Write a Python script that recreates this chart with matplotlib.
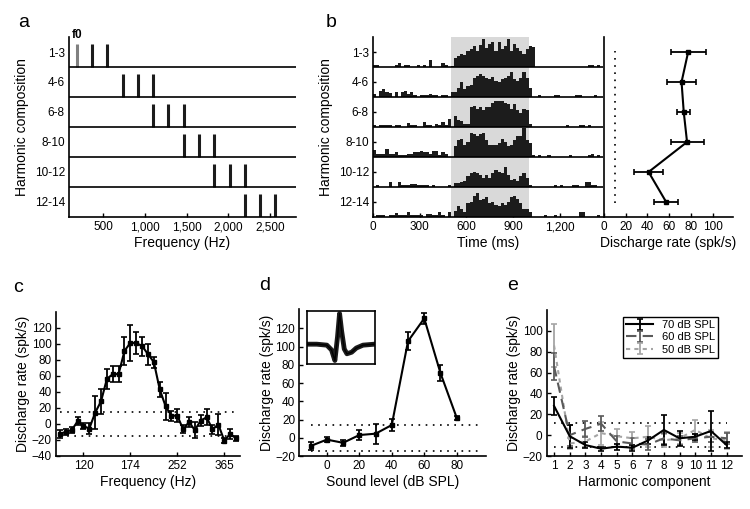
import matplotlib
matplotlib.use('Agg')
import matplotlib.pyplot as plt
import numpy as np
from matplotlib.ticker import NullLocator

plt.rcParams['font.family'] = ['Liberation Sans', 'DejaVu Sans']
plt.rcParams['axes.linewidth'] = 1.2

# ---- panel a: harmonic complexes ----
row_labels = ['1-3', '4-6', '6-8', '8-10', '10-12', '12-14']
f0_hz = 183
harmonic_numbers = [[1, 2, 3], [4, 5, 6], [6, 7, 8], [8, 9, 10], [10, 11, 12], [12, 13, 14]]
freq_ticks_a = [500, 1000, 1500, 2000, 2500]
freq_ticklabels_a = ['500', '1,000', '1,500', '2,000', '2,500']

# ---- panel b: PSTH per harmonic composition (20 ms bins) ----
psth_bin_ms = 20
psth_rows = [
    [0.7, 0.7, 0, 0, 0, 0, 0, 0.7, 1.5, 0, 0.8, 0.8, 0, 0, 0.8, 0, 0.8, 0, 2.2, 0,
     0, 0, 1.2, 0.7, 0, 0.5, 3.0, 3.8, 4.3, 4.0, 5.5, 6.0, 7.0, 5.5, 7.5, 9.5, 6.5, 7.8, 8.5, 5.5,
     8.5, 6.0, 7.0, 9.5, 5.5, 7.8, 6.5, 5.5, 4.5, 6.0, 7.0, 6.8, 0, 0, 0, 0, 0, 0, 0, 0,
     0, 0, 0, 0, 0, 0, 0, 0, 0, 0.7, 0.7, 0, 0.7, 0],
    [1.0, 0, 2.0, 2.5, 1.5, 1.3, 0, 1.5, 0, 1.5, 2.0, 1.0, 1.5, 0.8, 0, 0.5, 0.7, 0.5, 1.0, 0.8,
     0.5, 0, 0.5, 0.5, 0, 1.5, 1.5, 3.0, 5.0, 2.8, 3.5, 4.0, 6.5, 7.0, 7.8, 7.0, 6.5, 6.0, 6.8, 5.5,
     5.0, 6.0, 6.5, 7.0, 8.5, 6.0, 5.5, 6.5, 8.5, 6.5, 3.0, 0, 0, 0.5, 0, 0, 0, 0, 0.5, 0.5,
     0, 0, 0, 0, 0, 0.5, 0.5, 0, 0, 0, 0, 0.5, 0, 0],
    [0.5, 0, 0.5, 0.5, 0.5, 0.5, 0, 0.5, 0.5, 0, 0, 1.2, 0.5, 0.5, 0, 0, 1.5, 0.5, 0.5, 0,
     1.0, 0.5, 1.5, 0.5, 2.5, 0, 3.8, 2.2, 2.0, 1.0, 1.0, 6.5, 7.0, 6.0, 6.5, 5.5, 6.5, 6.5, 8.0, 8.5,
     8.5, 8.8, 8.0, 7.5, 6.0, 7.5, 5.5, 4.5, 6.0, 5.5, 1.0, 0, 0, 0, 0, 0, 0, 0, 0, 0,
     0, 0, 0.5, 0, 0, 0, 0.5, 0.5, 0, 0.5, 0, 0, 0, 0],
    [2.2, 1.0, 1.0, 1.0, 2.5, 1.0, 1.0, 1.5, 0.5, 0.8, 0.5, 1.0, 1.0, 1.5, 1.5, 2.0, 1.5, 1.5, 1.0, 2.0,
     2.0, 0.5, 1.5, 1.0, 0, 0, 3.5, 5.5, 6.0, 4.0, 5.0, 8.0, 7.5, 7.0, 7.5, 8.0, 5.5, 4.0, 4.0, 4.0,
     4.5, 6.0, 5.0, 3.5, 4.0, 5.5, 7.0, 7.0, 9.5, 5.5, 4.5, 0.5, 0, 0.5, 0, 0, 0.5, 0, 0, 0,
     0, 0, 0, 0.5, 0, 0, 0, 0, 0, 0.5, 1.0, 0, 0.5, 0],
    [0, 0.5, 0, 0, 0, 1.5, 0, 0, 1.5, 0.8, 0.8, 0.5, 1.0, 1.0, 0.5, 0.5, 0.8, 0.5, 0, 0.5,
     0, 0, 0, 0, 0.8, 0, 1.2, 1.3, 1.8, 2.0, 3.5, 4.5, 5.0, 4.5, 4.0, 3.0, 4.0, 3.0, 4.5, 5.5,
     5.0, 4.5, 6.5, 4.0, 2.2, 2.5, 2.0, 3.5, 4.5, 3.0, 0.5, 0, 0, 0, 0, 0, 0, 0, 0.5, 0,
     0.8, 0, 0, 0, 0.8, 0.8, 0, 0, 1.5, 1.5, 0.5, 0.5, 0, 0],
    [0, 0.5, 0.5, 0.5, 0, 0.5, 0.5, 1.2, 0.5, 0.5, 0.5, 1.5, 0.5, 0.5, 0.5, 0.8, 0, 1.0, 1.0, 0.5,
     0.5, 1.5, 0.5, 0, 1.5, 0, 2.0, 3.5, 2.5, 1.5, 4.5, 5.0, 7.0, 8.0, 5.5, 6.0, 6.5, 4.5, 5.0, 4.0,
     3.5, 4.5, 4.0, 5.0, 6.5, 7.0, 6.0, 4.5, 2.5, 2.5, 1.5, 0, 0, 0, 0, 0.5, 0, 0, 0.8, 0,
     0, 0, 0, 0, 0, 0, 1.5, 1.5, 0, 0, 0, 0, 0.5, 0],
]
stim_on_ms, stim_off_ms = 500, 1000
time_ticks = [0, 300, 600, 900, 1200]
time_ticklabels = ['0', '300', '600', '900', '1,200']

# discharge rate per composition
rate_mean = [77, 71, 73, 76, 41, 57]
rate_err = [16, 13.5, 6, 15, 13, 11]
spont_rate = 10

# ---- panel c: f0 tuning ----
tune_freqs = [100.0, 104.7, 109.7, 114.9, 120.3, 126.0, 132.0, 138.2, 144.7, 151.6, 158.7,
              166.2, 174.1, 182.3, 191.0, 200.0, 209.5, 219.4, 229.7, 240.6, 252.0, 263.9,
              276.4, 289.4, 303.1, 317.5, 332.5, 348.2, 364.8, 382.0, 400.0]
tune_rate = [-13, -10, -8, 3, -3, -6, 14, 28, 56, 62, 62, 91, 101, 101, 97, 87, 77, 43, 22, 10,
             10, -7, 2, -8, 4, 8, -7, -1, -21, -13, -18]
tune_err = [5, 4, 4, 5, 4, 7, 21, 16, 12, 10, 10, 17, 23, 14, 12, 13, 7, 9, 17, 6,
            8, 5, 6, 10, 7, 10, 6, 13, 3, 6, 3]
tune_ticks = [120.3, 174.1, 252.0, 364.8]
tune_ticklabels = ['120', '174', '252', '365']
tune_spont = [15, -15]

# ---- panel d: rate-level ----
sound_levels = [-10, 0, 10, 20, 30, 40, 50, 60, 70, 80]
level_rate = [-9, -2, -5.5, 3, 4.5, 14, 106, 131, 71, 22]
level_err = [4.5, 3, 3.5, 5.5, 11, 6.5, 10, 6.5, 9, 2]
level_spont = [14, -14]
# spike waveform in inset
wave_t = [0, 0.14, 0.29, 0.36, 0.41, 0.45, 0.48, 0.51, 0.55, 0.59, 0.66, 0.73, 0.83, 1.0]
wave_v = [0, 0, -0.05, -0.3, -0.85, 0.4, 1.6, 0.7, -0.25, -0.5, -0.42, -0.2, -0.05, 0]

# ---- panel e: single harmonic components ----
components = [1, 2, 3, 4, 5, 6, 7, 8, 9, 10, 11, 12]
rate_70db = [28, -1, -9.5, -13, -11, -12, -5, 5, -3, -1.5, 4, -9.5]
err_70db = [9, 11, 3, 2, 3, 3, 3, 14, 7, 3, 19, 3]
rate_60db = [66, 0, 6, 11, -6, -8, -9, -3, -5, -3, -1.5, -3]
err_60db = [13, 10, 8, 7, 5, 5, 5, 5, 4, 4, 5, 5]
rate_50db = [86, -8, -6, 2, -1, -3, -1.5, -5, -3, 5, -3, -5]
err_50db = [21, 5, 5, 11, 7, 6, 10, 6, 5, 10, 8, 8]
comp_spont = [11.5, -11.5]

dark = '#1c1c1c'
dotted = (0, (1, 3.3))


def style(ax):
    ax.spines['top'].set_visible(False)
    ax.spines['right'].set_visible(False)
    ax.tick_params(direction='in', length=3, width=1, labelsize=8.5, pad=3)


fig = plt.figure(figsize=(7.5, 5.09), dpi=100)
n_rows = len(row_labels)
row_centers = [n_rows - 0.5 - i for i in range(n_rows)]

# panel a
ax_a = fig.add_axes([0.092, 0.5737, 0.3027, 0.3536])
style(ax_a)
for i, harmonics in enumerate(harmonic_numbers):
    base = n_rows - 1 - i
    for h in harmonics:
        ax_a.vlines(f0_hz * h, base, base + 0.77, color='#808080' if h == 1 else dark, lw=2.2)
    if base > 0:
        ax_a.axhline(base, color='k', lw=1.2)
ax_a.text(f0_hz, 6.08, 'f0', fontweight='bold', fontsize=8.5, ha='center', va='center', clip_on=False)
ax_a.set_xlim(90, 2810)
ax_a.set_ylim(0, n_rows)
ax_a.set_xticks(freq_ticks_a)
ax_a.set_xticklabels(freq_ticklabels_a)
ax_a.set_yticks(row_centers)
ax_a.set_yticklabels(row_labels)
ax_a.tick_params(axis='y', length=0)
ax_a.set_xlabel('Frequency (Hz)', fontsize=10, labelpad=2)
ax_a.set_ylabel('Harmonic composition', fontsize=10)

# panel b, PSTH
ax_b = fig.add_axes([0.4973, 0.5737, 0.3073, 0.3536])
style(ax_b)
ax_b.axvspan(stim_on_ms, stim_off_ms, color='#d9d9d9', lw=0, zorder=0)
for i, counts in enumerate(psth_rows):
    base = n_rows - 1 - i
    edges = np.arange(len(counts)) * psth_bin_ms
    ax_b.bar(edges, np.array(counts) / 10.0, width=psth_bin_ms, align='edge', bottom=base,
             color=dark, lw=0, zorder=2)
    if base > 0:
        ax_b.axhline(base, color='k', lw=1.2, zorder=3)
ax_b.set_xlim(0, len(psth_rows[0]) * psth_bin_ms)
ax_b.set_ylim(0, n_rows)
ax_b.set_xticks(time_ticks)
ax_b.set_xticklabels(time_ticklabels)
ax_b.set_yticks(row_centers)
ax_b.set_yticklabels(row_labels)
ax_b.tick_params(axis='y', length=2)
ax_b.set_xlabel('Time (ms)', fontsize=10, labelpad=2)
ax_b.set_ylabel('Harmonic composition', fontsize=10)

# panel b, rates
ax_r = fig.add_axes([0.8047, 0.5737, 0.1729, 0.3536])
style(ax_r)
ax_r.errorbar(rate_mean, row_centers, xerr=rate_err, color='k', lw=1.5, elinewidth=1.3,
              capsize=2.5, capthick=1.2, marker='s', ms=2.5)
ax_r.vlines(spont_rate, row_centers[-1] - 0.05, row_centers[0] + 0.05, color='k', lw=1.2, linestyles=dotted)
ax_r.set_xlim(0, 118)
ax_r.set_ylim(0, n_rows)
ax_r.set_xticks([0, 20, 40, 60, 80, 100])
ax_r.set_yticks([])
ax_r.set_xlabel('Discharge rate (spk/s)', fontsize=10, labelpad=2)

# panel c
ax_c = fig.add_axes([0.0743, 0.1047, 0.2457, 0.2829])
style(ax_c)
ax_c.set_xscale('log')
ax_c.hlines(tune_spont, tune_freqs[0], tune_freqs[-1], color='k', lw=1.2, linestyles=dotted)
ax_c.errorbar(tune_freqs, tune_rate, yerr=tune_err, color='k', lw=1.5, elinewidth=1.3,
              capsize=2, capthick=1.2, marker='s', ms=2.5)
ax_c.set_xlim(96.7, 413)
ax_c.set_ylim(-40, 140)
ax_c.set_xticks(tune_ticks)
ax_c.set_xticklabels(tune_ticklabels)
ax_c.xaxis.set_minor_locator(NullLocator())
ax_c.set_yticks(range(-40, 121, 20))
ax_c.set_xlabel('Frequency (Hz)', fontsize=10, labelpad=2)
ax_c.set_ylabel('Discharge rate (spk/s)', fontsize=10, labelpad=1)

# panel d
ax_d = fig.add_axes([0.399, 0.1041, 0.2489, 0.2882])
style(ax_d)
ax_d.hlines(level_spont, -10, 93, color='k', lw=1.2, linestyles=dotted)
ax_d.errorbar(sound_levels, level_rate, yerr=level_err, color='k', lw=1.5, elinewidth=1.3,
              capsize=2, capthick=1.2, marker='s', ms=2.5)
ax_d.set_xlim(-17, 98)
ax_d.set_ylim(-20, 141)
ax_d.set_xticks([0, 20, 40, 60, 80])
ax_d.set_yticks(range(-20, 121, 20))
ax_d.set_xlabel('Sound level (dB SPL)', fontsize=10, labelpad=2)
ax_d.set_ylabel('Discharge rate (spk/s)', fontsize=10, labelpad=1)

ax_in = fig.add_axes([0.409, 0.2843, 0.0911, 0.1053])
ax_in.plot(wave_t, wave_v, color=dark, lw=3.5, solid_joinstyle='round')
ax_in.plot(wave_t, wave_v, color='k', lw=1)
ax_in.set_xlim(-0.01, 1.01)
ax_in.set_ylim(-1.05, 1.75)
ax_in.set_xticks([])
ax_in.set_yticks([])
for sp in ax_in.spines.values():
    sp.set_linewidth(1.2)

# panel e
ax_e = fig.add_axes([0.7289, 0.1041, 0.26, 0.2868])
style(ax_e)
ax_e.hlines(comp_spont, 1, 12, color='k', lw=1.2, linestyles=dotted)
ax_e.errorbar(components, rate_50db, yerr=err_50db, color='#a5a5a5', lw=1.5, ls=(0, (2, 2)),
              elinewidth=1.3, capsize=2, capthick=1.2, label='50 dB SPL')
ax_e.errorbar(components, rate_60db, yerr=err_60db, color='#5a5a5a', lw=1.5, ls=(0, (5, 3)),
              elinewidth=1.3, capsize=2, capthick=1.2, label='60 dB SPL')
ax_e.errorbar(components, rate_70db, yerr=err_70db, color='k', lw=1.5,
              elinewidth=1.3, capsize=2, capthick=1.2, label='70 dB SPL')
ax_e.set_xlim(0.53, 12.96)
ax_e.set_ylim(-20, 120)
ax_e.set_xticks(components)
ax_e.set_yticks(range(-20, 101, 20))
ax_e.set_xlabel('Harmonic component', fontsize=10, labelpad=2)
ax_e.set_ylabel('Discharge rate (spk/s)', fontsize=10, labelpad=1)
handles, labels = ax_e.get_legend_handles_labels()
leg = ax_e.legend(handles[::-1], labels[::-1], loc='upper right', bbox_to_anchor=(0.88, 0.954),
                  borderaxespad=0, fontsize=8, handlelength=2.4, fancybox=False,
                  edgecolor='k', framealpha=1, borderpad=0.3, labelspacing=0.2)
leg.get_frame().set_linewidth(1)

# panel letters
for letter, x, y in [('a', 0.031, 0.955), ('b', 0.442, 0.955), ('c', 0.024, 0.436),
                     ('d', 0.353, 0.44), ('e', 0.683, 0.44)]:
    fig.text(x, y, letter, fontsize=14, ha='center', va='center')

fig.savefig('out.png', dpi=100)
